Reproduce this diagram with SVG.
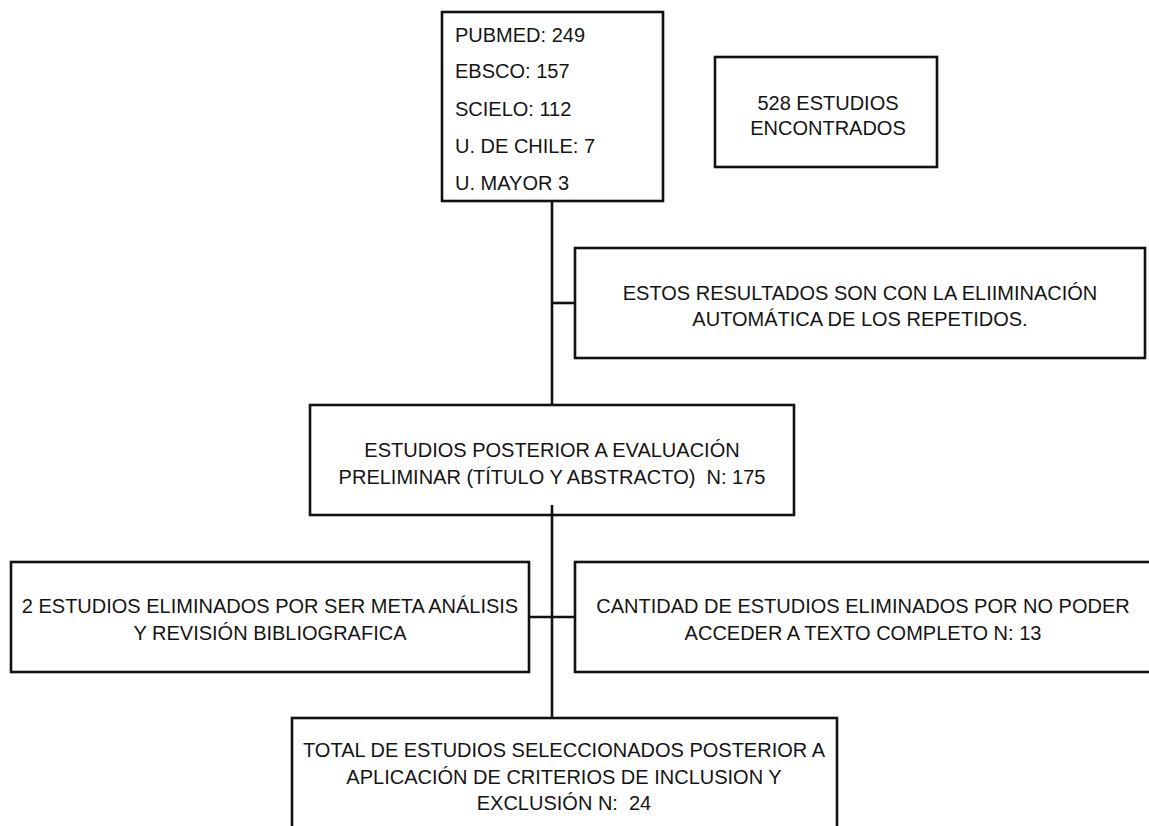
<svg xmlns="http://www.w3.org/2000/svg" width="1149" height="826" viewBox="0 0 1149 826">
<style>
.box{fill:#fff;stroke:#111;stroke-width:2.6}
.ln{fill:none;stroke:#111;stroke-width:2.6}
text{font-family:"Liberation Sans",Arial,sans-serif;font-size:20px;fill:#141414}
.c{text-anchor:middle}
</style>
<rect width="1149" height="826" fill="#fff"/>
<g id="sources">
<rect class="box" x="442" y="12" width="221" height="189"/>
<text x="455" y="42">PUBMED: 249</text>
<text x="455" y="78">EBSCO: 157</text>
<text x="455" y="116">SCIELO: 112</text>
<text x="455" y="153">U. DE CHILE: 7</text>
<text x="455" y="190">U. MAYOR 3</text>
</g>
<g id="found">
<rect class="box" x="715" y="57" width="222" height="110"/>
<text class="c" x="828" y="110">528 ESTUDIOS</text>
<text class="c" x="828" y="135">ENCONTRADOS</text>
</g>
<g id="note">
<rect class="box" x="575" y="248" width="570" height="110"/>
<text class="c" x="860" y="300">ESTOS RESULTADOS SON CON LA ELIIMINACIÓN</text>
<text class="c" x="860" y="326">AUTOMÁTICA DE LOS REPETIDOS.</text>
</g>
<g id="preliminary">
<rect class="box" x="310" y="405" width="484" height="110"/>
<text class="c" x="552" y="457">ESTUDIOS POSTERIOR A EVALUACIÓN</text>
<text class="c" x="552" y="484" xml:space="preserve">PRELIMINAR (TÍTULO Y ABSTRACTO)  N: 175</text>
</g>
<g id="removed-meta">
<rect class="box" x="11" y="562" width="518" height="110"/>
<text class="c" x="270" y="613">2 ESTUDIOS ELIMINADOS POR SER META ANÁLISIS</text>
<text class="c" x="270" y="640">Y REVISIÓN BIBLIOGRAFICA</text>
</g>
<g id="removed-access">
<rect class="box" x="575" y="562" width="580" height="110"/>
<text class="c" x="863" y="613">CANTIDAD DE ESTUDIOS ELIMINADOS POR NO PODER</text>
<text class="c" x="863" y="640">ACCEDER A TEXTO COMPLETO N: 13</text>
</g>
<g id="selected">
<rect class="box" x="292" y="718" width="545" height="120"/>
<text class="c" x="564" y="757">TOTAL DE ESTUDIOS SELECCIONADOS POSTERIOR A</text>
<text class="c" x="564" y="784">APLICACIÓN DE CRITERIOS DE INCLUSION Y</text>
<text class="c" x="564" y="810" xml:space="preserve">EXCLUSIÓN N:  24</text>
</g>
<g id="connectors">
<line class="ln" x1="552" y1="201" x2="552" y2="405"/>
<line class="ln" x1="552" y1="303" x2="575" y2="303"/>
<line class="ln" x1="552" y1="505" x2="552" y2="718"/>
<line class="ln" x1="529" y1="617" x2="575" y2="617"/>
</g>
</svg>
